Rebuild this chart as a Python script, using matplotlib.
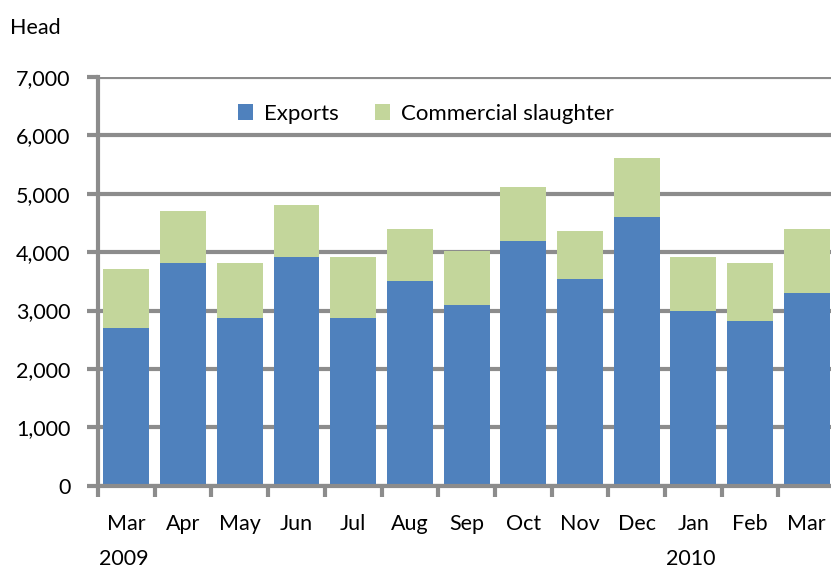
import matplotlib
matplotlib.use("Agg")
import matplotlib.pyplot as plt
import matplotlib.transforms as mtransforms
import numpy as np

plt.rcParams['font.family'] = ['Lato', 'DejaVu Sans']

months = ['Mar', 'Apr', 'May', 'Jun', 'Jul', 'Aug', 'Sep', 'Oct', 'Nov', 'Dec', 'Jan', 'Feb', 'Mar']
years = {0: '2009', 10: '2010'}
exports = [2700, 3820, 2870, 3920, 2870, 3500, 3090, 4190, 3540, 4600, 2990, 2820, 3300]
slaughter = [1010, 890, 950, 890, 1050, 900, 925, 930, 830, 1010, 930, 1000, 1100]

blue = '#4F81BD'
green = '#C3D69B'
grey = '#8C8C8C'
fs = 15.5

fig = plt.figure(figsize=(8.31, 5.69), dpi=100)
ax = fig.add_axes([0.118, 0.146, 0.887, 0.719])

x = np.arange(len(months))
ax.bar(x, exports, width=0.81, color=blue, label='Exports', zorder=3)
ax.bar(x, slaughter, width=0.81, bottom=exports, color=green, label='Commercial slaughter', zorder=3)

ax.set_ylim(0, 7000)
ax.set_xlim(-0.5, len(months) - 0.5)
ax.set_yticks(np.arange(0, 7001, 1000))
ax.set_yticklabels(['{:,}'.format(v) for v in range(0, 7001, 1000)])
ax.grid(axis='y', color=grey, linewidth=3, zorder=0)

ax.set_xticks(x)
ax.set_xticklabels(months)
ax.set_xticks(np.arange(-0.5, len(months), 1), minor=True)
ax.tick_params(axis='x', which='major', length=0, pad=20, labelsize=fs, colors='black')
ax.tick_params(axis='x', which='minor', length=8, width=3, color=grey, direction='out')
ax.tick_params(axis='y', length=8, width=3, color=grey, labelsize=fs, pad=12)

for s in ['top', 'right']:
    ax.spines[s].set_visible(False)
for s in ['left', 'bottom']:
    ax.spines[s].set_color(grey)
    ax.spines[s].set_linewidth(3)
    ax.spines[s].set_zorder(4)

trans = mtransforms.blended_transform_factory(ax.transData, fig.transFigure)
for i, yr in years.items():
    ax.text(i - 0.05, 0.018, yr, transform=trans, ha='center', va='center', fontsize=fs)

fig.text(0.012, 0.95, 'Head', ha='left', va='center', fontsize=fs)

ax.legend(loc='center', bbox_to_anchor=(0.445, 0.91), ncol=2, frameon=False,
          fontsize=16, handlelength=0.7, handleheight=0.7, columnspacing=1.6,
          handletextpad=0.5)

fig.savefig('out.png', dpi=100)
